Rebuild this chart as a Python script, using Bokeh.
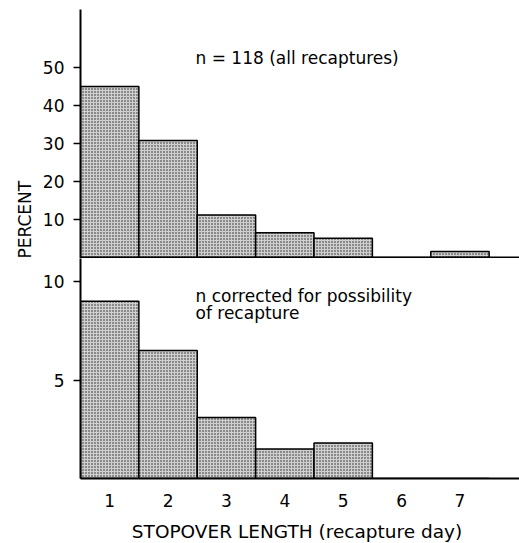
from bokeh.plotting import figure
from bokeh.layouts import column
from bokeh.models import FixedTicker, Span, Label, Range1d, ColumnDataSource, Title
from bokeh.embed import file_html
from bokeh.resources import INLINE

# ---- data ----
days = [1, 2, 3, 4, 5, 6, 7]
day_labels = ["1", "2", "3", "4", "5", "6", "7"]
pct_all = [45.0, 30.8, 11.2, 6.5, 5.1, 0.0, 1.6]          # n = 118, all recaptures
pct_corrected = [9.0, 6.5, 3.1, 1.5, 1.8, 0.0, 0.0]        # corrected for possibility of recapture
top_ticks = [10, 20, 30, 40, 50]
bottom_ticks = [5, 10]

FONT = "DejaVu Sans"
x_range = Range1d(0.5, 8.02)

bar_style = dict(width=1.0, fill_color="#cfcfcf", line_color="black", line_width=1.5,
                 hatch_pattern="dot", hatch_color="#222222", hatch_scale=3, hatch_weight=1)


def style_yaxis(p, ticks):
    ax = p.yaxis[0]
    ax.ticker = FixedTicker(ticks=ticks)
    ax.axis_line_width = 2
    ax.axis_line_color = "black"
    ax.major_tick_out = 7
    ax.major_tick_in = 0
    ax.minor_tick_line_color = None
    ax.major_tick_line_width = 1.5
    ax.major_label_standoff = 9
    ax.major_label_text_font = FONT
    ax.major_label_text_font_size = "17px"
    ax.major_label_text_color = "black"


# ---- top panel ----
top = figure(width=519, height=258, frame_width=439, frame_height=249,
             min_border_left=80, min_border_right=0, min_border_top=9, min_border_bottom=0,
             x_range=x_range, y_range=Range1d(-0.26, 65.26),
             x_axis_location=None, output_backend="svg", toolbar_location=None)
top.outline_line_color = None
top.xgrid.visible = False
top.ygrid.visible = False
top.vbar(x="x", top="y", source=ColumnDataSource(dict(x=days, y=pct_all)), **bar_style)
top.add_layout(Span(location=0, dimension="width", line_color="black", line_width=2))
style_yaxis(top, top_ticks)
top.add_layout(Label(x=2.47, y=52.4, text="n = 118  (all recaptures)", text_font=FONT,
                     text_color="black", text_font_size="17px",
                     text_baseline="middle", text_align="left"))
top.add_layout(Title(text="PERCENT", align="left", offset=0, text_font=FONT,
                     text_font_size="17px", text_font_style="normal",
                     text_color="black"), "left")

# ---- bottom panel ----
bot = figure(width=519, height=285, frame_width=439, frame_height=220,
             min_border_left=80, min_border_right=0, min_border_top=0, min_border_bottom=65,
             x_range=x_range, y_range=Range1d(0, 11.17),
             output_backend="svg", toolbar_location=None)
bot.outline_line_color = None
bot.xgrid.visible = False
bot.ygrid.visible = False
bot.vbar(x="x", top="y", source=ColumnDataSource(dict(x=days, y=pct_corrected)), **bar_style)
style_yaxis(bot, bottom_ticks)
xa = bot.xaxis[0]
xa.ticker = FixedTicker(ticks=days)
xa.major_label_overrides = {d: s for d, s in zip(days, day_labels)}
xa.axis_line_width = 2
xa.major_tick_line_color = None
xa.minor_tick_line_color = None
xa.major_label_standoff = 9
xa.major_label_text_font = FONT
xa.major_label_text_font_size = "17px"
xa.major_label_text_color = "black"
xa.axis_label = "STOPOVER LENGTH  (recapture day)"
xa.axis_label_text_font = FONT
xa.axis_label_text_font_size = "18.5px"
xa.axis_label_text_font_style = "normal"
xa.axis_label_text_color = "black"
xa.axis_label_standoff = 11
bot.add_layout(Label(x=2.47, y=9.29, text="n corrected for possibility", text_font=FONT,
                     text_color="black", text_font_size="17px",
                     text_baseline="middle", text_align="left"))
bot.add_layout(Label(x=2.47, y=8.38, text="of recapture", text_font=FONT,
                     text_color="black", text_font_size="17px",
                     text_baseline="middle", text_align="left"))

layout = column(top, bot, spacing=0)
open("out.html", "w").write(file_html(layout, INLINE))
